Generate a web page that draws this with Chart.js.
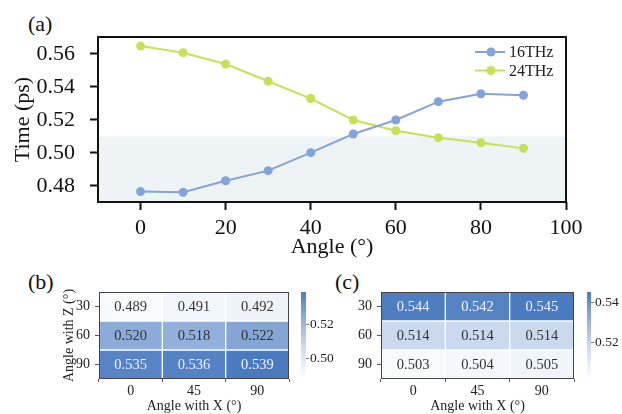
<!DOCTYPE html>
<html>
<head>
<meta charset="utf-8">
<script src="https://cdn.jsdelivr.net/npm/chart.js@4.4.1/dist/chart.umd.min.js"></script>
<style>
  body { margin: 0; background: #fff; width: 622px; height: 414px; position: relative; overflow: hidden; font-family: "Liberation Serif", serif; }
  canvas { position: absolute; }
  .panel { position: absolute; font-size: 22px; line-height: 1; color: #111; }
</style>
</head>
<body>
<div class="panel" style="left:28px;top:13px">(a)</div>
<div class="panel" style="left:28px;top:271px">(b)</div>
<div class="panel" style="left:335px;top:271px">(c)</div>
<canvas id="main" width="622" height="262" style="left:0;top:0"></canvas>
<canvas id="heatB" width="296" height="144" style="left:0;top:270px"></canvas>
<canvas id="barB" width="50" height="144" style="left:296px;top:270px"></canvas>
<canvas id="heatC" width="244" height="144" style="left:336px;top:270px"></canvas>
<canvas id="barC" width="40" height="144" style="left:582px;top:270px"></canvas>
<script>
// panel (a)
const angles = [0, 10, 20, 30, 40, 50, 60, 70, 80, 90];
const time16 = [0.4766, 0.4762, 0.4832, 0.4893, 0.5002, 0.5115, 0.5200, 0.5311, 0.5359, 0.5350];
const time24 = [0.5648, 0.5608, 0.5539, 0.5435, 0.5330, 0.5200, 0.5135, 0.5093, 0.5062, 0.5028];
const xTicks = [0, 20, 40, 60, 80, 100];
const yTicks = [0.48, 0.50, 0.52, 0.54, 0.56];
const shadeBelow = 0.51;

// panels (b) and (c)
const angleX = ["0", "45", "90"];
const angleZ = ["30", "60", "90"];
const mapB = [
  [0.489, 0.491, 0.492],
  [0.520, 0.518, 0.522],
  [0.535, 0.536, 0.539]
];
const mapC = [
  [0.544, 0.542, 0.545],
  [0.514, 0.514, 0.514],
  [0.503, 0.504, 0.505]
];
const rangeB = [0.489, 0.539];
const rangeC = [0.503, 0.545];
const cbTicksB = [0.50, 0.52];
const cbTicksC = [0.52, 0.54];

Chart.defaults.font.family = '"Liberation Serif", "Times New Roman", serif';
Chart.defaults.color = "#111";
Chart.defaults.animation = false;
Chart.defaults.devicePixelRatio = 1;

const blue = "#82a4da";
const green = "#c6e154";
const lowCol = [248, 251, 254];
const highCol = [74, 122, 192];

function cmap(v, range) {
  let t = (v - range[0]) / (range[1] - range[0]);
  t = Math.max(0, Math.min(1, t));
  const c = lowCol.map((l, i) => Math.round(l + (highCol[i] - l) * t));
  return `rgb(${c[0]},${c[1]},${c[2]})`;
}

// ---------- main line chart ----------
const mainExtras = {
  id: "mainExtras",
  beforeDatasetsDraw(chart) {
    const { ctx, chartArea: a, scales: { y } } = chart;
    const top = y.getPixelForValue(shadeBelow);
    ctx.save();
    ctx.fillStyle = "#eef3f5";
    ctx.fillRect(a.left, top, a.right - a.left, a.bottom - top);
    ctx.restore();
  },
  afterDraw(chart) {
    const { ctx, chartArea: a } = chart;
    ctx.save();
    ctx.strokeStyle = "#111";
    ctx.lineWidth = 2;
    ctx.strokeRect(a.left, a.top, a.right - a.left, a.bottom - a.top);
    // legend
    chart.data.datasets.forEach((ds, i) => {
      const yy = a.top + 15 + i * 18.5;
      ctx.strokeStyle = ds.borderColor;
      ctx.lineWidth = 2;
      ctx.beginPath();
      ctx.moveTo(a.right - 91, yy);
      ctx.lineTo(a.right - 61, yy);
      ctx.stroke();
      ctx.fillStyle = ds.borderColor;
      ctx.beginPath();
      ctx.arc(a.right - 75, yy, 4.5, 0, Math.PI * 2);
      ctx.fill();
      ctx.fillStyle = "#222";
      ctx.font = '16px "Liberation Serif"';
      ctx.textBaseline = "middle";
      ctx.fillText(ds.label, a.right - 57, yy + 1);
    });
    ctx.restore();
  }
};

new Chart(document.getElementById("main"), {
  type: "line",
  data: {
    datasets: [
      {
        label: "16THz",
        data: angles.map((a, i) => ({ x: a, y: time16[i] })),
        borderColor: blue, backgroundColor: blue,
        borderWidth: 2, pointRadius: 4.5, pointBorderWidth: 0, tension: 0
      },
      {
        label: "24THz",
        data: angles.map((a, i) => ({ x: a, y: time24[i] })),
        borderColor: green, backgroundColor: green,
        borderWidth: 2, pointRadius: 4.5, pointBorderWidth: 0, tension: 0
      }
    ]
  },
  options: {
    responsive: false,
    layout: { padding: { top: 37, right: 56, left: 0, bottom: 0 } },
    plugins: { legend: { display: false }, tooltip: { enabled: false } },
    scales: {
      x: {
        type: "linear", min: -10, max: 100,
        afterBuildTicks: s => { s.ticks = xTicks.map(v => ({ value: v })); },
        afterFit: s => { s.height = 60; },
        grid: { drawOnChartArea: false, tickLength: 8, tickWidth: 2, tickColor: "#111" },
        border: { display: false },
        ticks: { font: { size: 22 }, padding: 5, color: "#111" },
        title: { display: true, text: "Angle (°)", font: { size: 22 }, padding: { top: 0, bottom: 2 }, color: "#111" }
      },
      y: {
        type: "linear", min: 0.4703, max: 0.5703,
        afterBuildTicks: s => { s.ticks = yTicks.map(v => ({ value: v })); },
        afterFit: s => { s.width = 98; },
        grid: { drawOnChartArea: false, tickLength: 8, tickWidth: 2, tickColor: "#111" },
        border: { display: false },
        ticks: { font: { size: 22 }, padding: 15, color: "#111", callback: v => v.toFixed(2) },
        title: { display: true, text: "Time (ps)", font: { size: 22 }, padding: { top: 10, bottom: 0 }, color: "#111" }
      }
    }
  },
  plugins: [mainExtras]
});

// ---------- heatmaps ----------
const cellText = {
  id: "cellText",
  afterDatasetsDraw(chart) {
    const { ctx, chartArea: a } = chart;
    const vals = chart.options.plugins.cellText.values;
    const range = chart.options.plugins.cellText.range;
    ctx.save();
    ctx.font = '14.5px "Liberation Serif"';
    ctx.textAlign = "center";
    ctx.textBaseline = "middle";
    chart.data.datasets.forEach((ds, r) => {
      chart.getDatasetMeta(r).data.forEach((el, c) => {
        const v = vals[r][c];
        const t = (v - range[0]) / (range[1] - range[0]);
        const p = el.getCenterPoint();
        ctx.fillStyle = t > 0.75 ? "#eef3fb" : "#333";
        ctx.fillText(v.toFixed(3), p.x, p.y + 1);
      });
    });
    ctx.strokeStyle = "#444";
    ctx.lineWidth = 1;
    ctx.strokeRect(a.left + 0.5, a.top + 0.5, a.right - a.left - 1, a.bottom - a.top - 1);
    ctx.restore();
  }
};

function heatmap(id, values, range, yAxisWidth, rightPad, yTitle) {
  new Chart(document.getElementById(id), {
    type: "bar",
    data: {
      labels: angleX,
      datasets: values.map((row, r) => ({
        label: angleZ[r],
        data: row.map(() => [r, r + 1]),
        backgroundColor: row.map(v => cmap(v, range)),
        borderColor: "#fff",
        borderWidth: 1,
        borderSkipped: false,
        grouped: false,
        barPercentage: 1,
        categoryPercentage: 1
      }))
    },
    options: {
      responsive: false,
      layout: { padding: { top: 22, right: rightPad, left: 0, bottom: 0 } },
      plugins: {
        legend: { display: false }, tooltip: { enabled: false },
        cellText: { values, range }
      },
      scales: {
        x: {
          afterFit: s => { s.height = 35; },
          grid: { display: true, drawOnChartArea: false, tickLength: 3, tickColor: "#555" },
          border: { display: false },
          ticks: { font: { size: 14 }, padding: 1, color: "#222" },
          title: { display: true, text: "Angle with X (°)", font: { size: 14, lineHeight: 1 }, padding: { top: 0, bottom: 1 }, color: "#222" }
        },
        y: {
          type: "linear", min: 0, max: 3, reverse: true,
          afterBuildTicks: s => { s.ticks = angleZ.map((_, i) => ({ value: i + 0.5 })); },
          afterFit: s => { s.width = yAxisWidth; },
          grid: { display: true, drawOnChartArea: false, tickLength: 4, tickColor: "#555" },
          border: { display: false },
          ticks: { font: { size: 14 }, padding: 5, color: "#222", callback: (v, i) => angleZ[i] },
          title: { display: !!yTitle, text: yTitle || "", font: { size: 14, lineHeight: 1 }, padding: { top: 62, bottom: 0 }, color: "#222" }
        }
      }
    },
    plugins: [cellText]
  });
}

heatmap("heatB", mapB, rangeB, 99, 7, "Angle with Z (°)");
heatmap("heatC", mapC, rangeC, 45, 6, null);

// ---------- colorbars ----------
function colorbar(id, range, ticks, axisWidth) {
  new Chart(document.getElementById(id), {
    type: "bar",
    data: {
      labels: [""],
      datasets: [{
        data: [range],
        barPercentage: 1, categoryPercentage: 1, borderWidth: 0,
        backgroundColor: ctx => {
          const a = ctx.chart.chartArea;
          if (!a) return cmap(range[1], range);
          const g = ctx.chart.ctx.createLinearGradient(0, a.bottom, 0, a.top);
          g.addColorStop(0, "rgba(248,251,254,0.6)");
          g.addColorStop(1, cmap(range[1], range));
          return g;
        }
      }]
    },
    options: {
      responsive: false,
      layout: { padding: { top: 22, right: 0, left: 5, bottom: 37 } },
      plugins: { legend: { display: false }, tooltip: { enabled: false } },
      scales: {
        x: { display: false },
        y: {
          position: "right", min: range[0], max: range[1],
          afterBuildTicks: s => { s.ticks = ticks.map(v => ({ value: v })); },
          afterFit: s => { s.width = axisWidth; },
          grid: { display: true, drawOnChartArea: false, tickLength: 3, tickColor: "#777" },
          border: { display: false },
          ticks: { font: { size: 13.5 }, padding: 1, color: "#222", callback: v => v.toFixed(2) }
        }
      }
    }
  });
}

colorbar("barB", rangeB, cbTicksB, 40);
colorbar("barC", rangeC, cbTicksC, 31);
</script>
</body>
</html>
